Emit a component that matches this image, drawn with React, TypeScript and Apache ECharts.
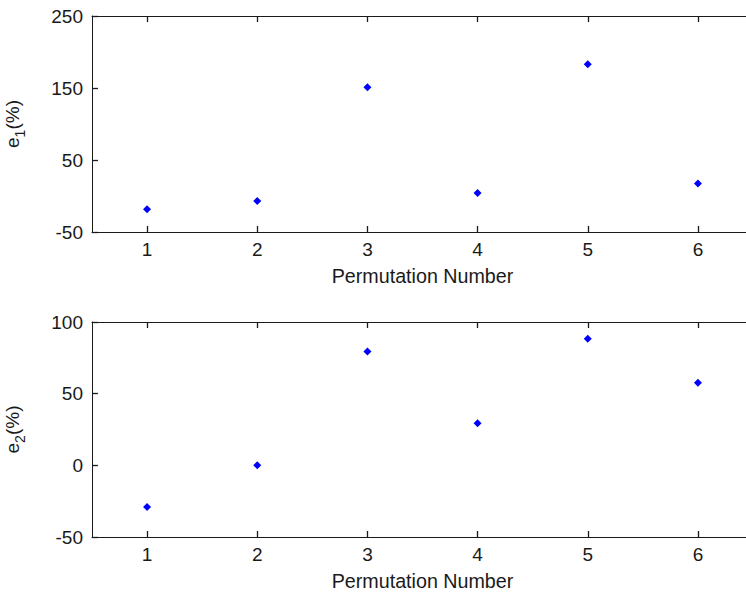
import React, { useEffect, useRef } from "react";
import * as echarts from "echarts";

const categories = ["1", "2", "3", "4", "5", "6"];
const e1Values = [-18.5, -7, 151, 4, 183, 17.5];
const e2Values = [-29, 0, 79.5, 29.3, 88.4, 57.7];
const e1Range = { min: -50, max: 250, interval: 100 };
const e2Range = { min: -50, max: 100, interval: 50 };
const xName = "Permutation Number";

const FONT = "Liberation Sans, Arial, sans-serif";
const INK = "#1a1a1a";

function yName(sub: string) {
  return `{e|e}{s|${sub}}{e|(%)}`;
}

export default function App() {
  const ref = useRef<HTMLDivElement>(null);
  useEffect(() => {
    if (!ref.current) return;
    const chart = echarts.init(ref.current, null, { renderer: "svg" });
    const axisLine = { show: true, onZero: false, lineStyle: { color: INK, width: 1 } };
    const tick = { show: true, inside: true, length: 6, alignWithLabel: true, lineStyle: { color: INK, width: 1.3 } };
    const label = { color: INK, fontSize: 19, fontFamily: FONT };
    const grids = [
      { left: 92, right: -7, top: 16, height: 216, outerBoundsMode: "none", containLabel: false },
      { left: 92, right: -7, top: 322, height: 215, outerBoundsMode: "none", containLabel: false },
    ];
    const xAxes: any[] = [];
    const yAxes: any[] = [];
    [e1Range, e2Range].forEach((r, i) => {
      xAxes.push({
        type: "category",
        gridIndex: i,
        data: categories,
        position: "bottom",
        boundaryGap: true,
        axisLine,
        axisTick: tick,
        axisLabel: { ...label, margin: 8 },
        splitLine: { show: false },
        name: xName,
        nameLocation: "middle",
        nameGap: 34,
        nameTextStyle: { ...label, fontSize: 19.7 },
      });
      xAxes.push({
        type: "category",
        gridIndex: i,
        data: categories,
        position: "top",
        boundaryGap: true,
        axisLine,
        axisTick: tick,
        axisLabel: { show: false },
        splitLine: { show: false },
      });
      yAxes.push({
        type: "value",
        gridIndex: i,
        min: r.min,
        max: r.max,
        interval: r.interval,
        axisLine,
        axisTick: { show: true, inside: true, length: 6, lineStyle: { color: INK, width: 1.3 } },
        axisLabel: { ...label, margin: 9 },
        splitLine: { show: false },
        name: yName(i === 0 ? "1" : "2"),
        nameLocation: "middle",
        nameRotate: 90,
        nameGap: 65,
        nameTextStyle: {
          ...label,
          rich: {
            e: { fontSize: 19, fontFamily: FONT, color: INK, lineHeight: 24, verticalAlign: "top" },
            s: { fontSize: 14, fontFamily: FONT, color: INK, lineHeight: 14, verticalAlign: "bottom" },
          },
        },
      });
    });
    chart.setOption({
      animation: false,
      backgroundColor: "#ffffff",
      grid: grids,
      xAxis: xAxes,
      yAxis: yAxes,
      series: [
        {
          type: "scatter",
          xAxisIndex: 0,
          yAxisIndex: 0,
          data: e1Values,
          symbol: "diamond",
          symbolSize: 8,
          itemStyle: { color: "#0000ff", opacity: 1 },
        },
        {
          type: "scatter",
          xAxisIndex: 2,
          yAxisIndex: 1,
          data: e2Values,
          symbol: "diamond",
          symbolSize: 8,
          itemStyle: { color: "#0000ff", opacity: 1 },
        },
      ],
    });
    return () => chart.dispose();
  }, []);
  return (
    <div
      ref={ref}
      style={{ position: "fixed", left: 0, top: 0, width: 746, height: 592, background: "#fff" }}
    />
  );
}
